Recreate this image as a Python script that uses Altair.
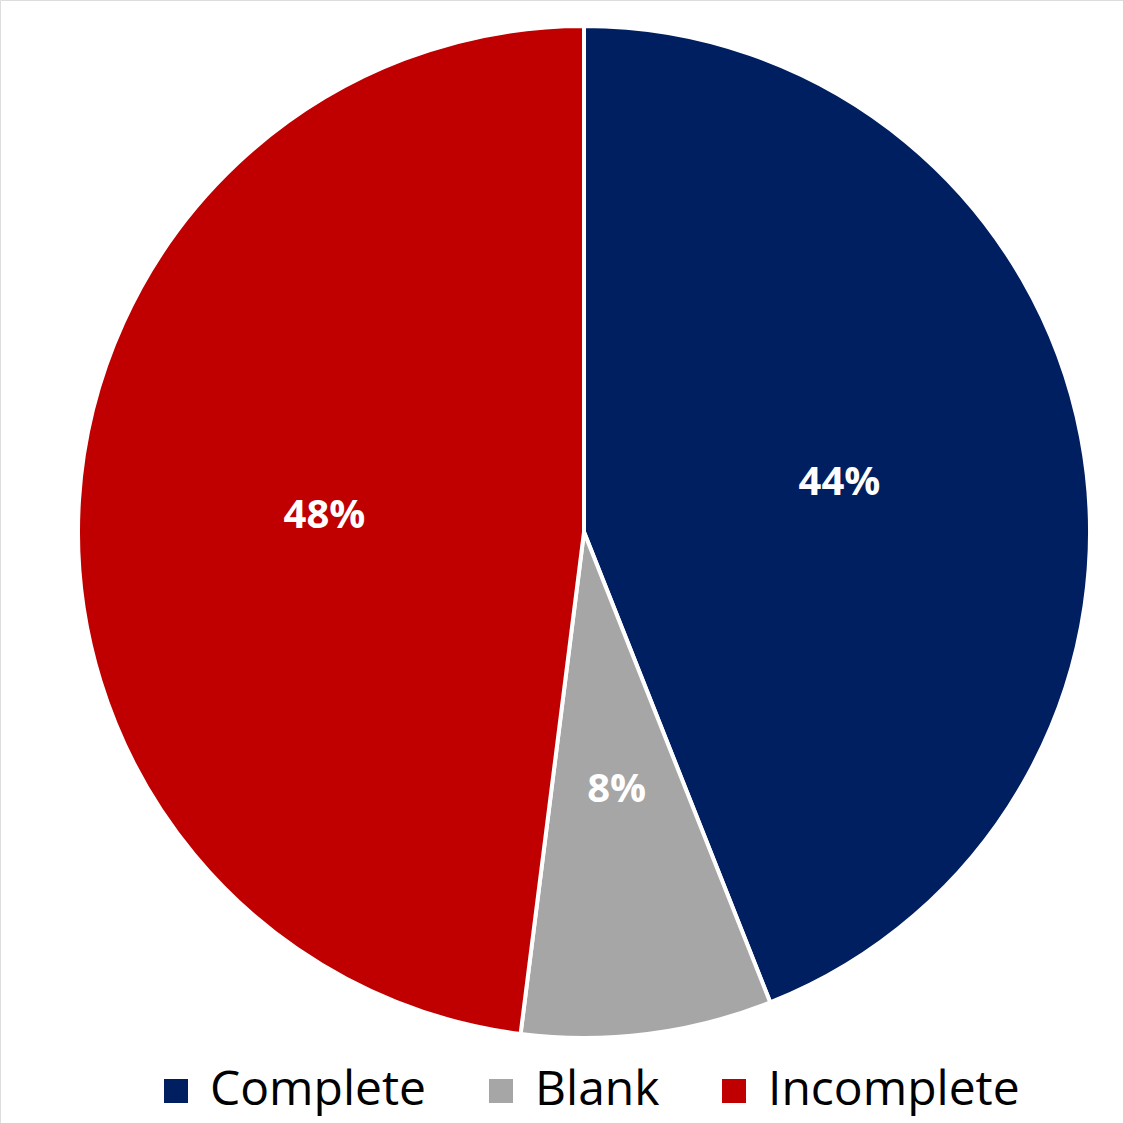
import altair as alt
import pandas as pd

categories = ["Complete", "Blank", "Incomplete"]
values = [44, 8, 48]
labels = ["44%", "8%", "48%"]
colors = ["#001F60", "#A6A6A6", "#C00000"]

df = pd.DataFrame({"category": categories, "value": values, "label": labels,
                   "order": [0, 1, 2]})

color = alt.Color("category:N", sort=categories,
                  scale=alt.Scale(domain=categories, range=colors),
                  legend=alt.Legend(title=None, orient="none", direction="horizontal",
                                    legendX=152, legendY=1067,
                                    symbolType="square", symbolSize=576,
                                    symbolStrokeWidth=0,
                                    labelFont="Open Sans", labelFontSize=48,
                                    labelColor="#000000", labelOffset=10,
                                    columnPadding=50, labelLimit=400))

base = alt.Chart(df).encode(
    theta=alt.Theta("value:Q", stack=True),
    order=alt.Order("order:Q"),
    x=alt.value(584),
    y=alt.value(532),
)

pie = base.mark_arc(radius=506, stroke="white", strokeWidth=4).encode(color=color)
text = base.mark_text(radius=260, font="Open Sans", fontSize=40, fontWeight="bold",
                      color="white").encode(text="label:N")

chart = (pie + text).properties(
    width=1123, height=1123, padding=0,
    autosize=alt.AutoSizeParams(type="none"),
).configure_view(stroke=None).configure(background="white")

chart.save("out.html", embed_options={"renderer": "svg", "actions": False})
